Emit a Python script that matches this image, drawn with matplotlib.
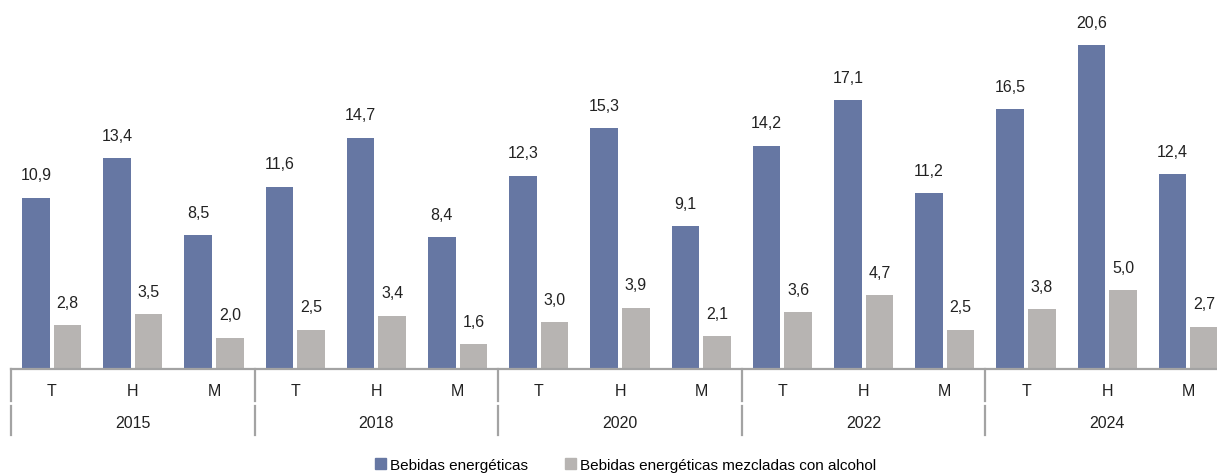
import matplotlib; matplotlib.use("Agg")
import matplotlib.pyplot as plt
import matplotlib.transforms as mtrans
from matplotlib.lines import Line2D
from matplotlib.patches import Patch
import numpy as np

plt.rcParams['font.family'] = ['Liberation Sans', 'DejaVu Sans']

years = ["2015", "2018", "2020", "2022", "2024"]
groups = ["T", "H", "M"]
energeticas = [10.9, 13.4, 8.5, 11.6, 14.7, 8.4, 12.3, 15.3, 9.1,
               14.2, 17.1, 11.2, 16.5, 20.6, 12.4]
con_alcohol = [2.8, 3.5, 2.0, 2.5, 3.4, 1.6, 3.0, 3.9, 2.1,
               3.6, 4.7, 2.5, 3.8, 5.0, 2.7]
series_names = ["Bebidas energéticas", "Bebidas energéticas mezcladas con alcohol"]

BLUE = "#6677a3"
GREY = "#b7b4b2"
LINE = "#a3a3a3"

W, H = 1217, 477
fig = plt.figure(figsize=(W / 100, H / 100), dpi=100)
# axes runs a bit past the right edge, like the clipped original
ax = fig.add_axes([11 / W, 107 / H, 1218 / W, 345 / H])

n = len(energeticas)
x = np.arange(n)
bw = 0.34
b1 = ax.bar(x - 0.195, energeticas, bw, color=BLUE)
b2 = ax.bar(x + 0.195, con_alcohol, bw, color=GREY)

for bars, vals in ((b1, energeticas), (b2, con_alcohol)):
    for r, v in zip(bars, vals):
        ax.annotate(f"{v:.1f}".replace(".", ","),
                    (r.get_x() + r.get_width() / 2, v),
                    xytext=(0, 11), textcoords="offset points",
                    ha="center", va="bottom", fontsize=11.5, color="#222222")

ax.set_xlim(-0.5, n - 0.5)
ax.set_ylim(0, 345 / 15.73)
for s in ("top", "right", "left"):
    ax.spines[s].set_visible(False)
ax.spines["bottom"].set_color(LINE)
ax.spines["bottom"].set_linewidth(1.6)
ax.set_xticks([])
ax.set_yticks([])

tr = mtrans.blended_transform_factory(ax.transData, fig.transFigure)
for i in range(n):
    ax.text(i, (H - 392) / H, groups[i % 3], transform=tr, ha="center",
            va="center", fontsize=11.5, color="#222222")
for k, yr in enumerate(years):
    ax.text(3 * k + 1, (H - 424) / H, yr, transform=tr, ha="center",
            va="center", fontsize=11.5, color="#222222")
for k in range(len(years) + 1):
    xs = 3 * k - 0.5
    for y0, y1 in ((370, 402), (407, 436)):
        ax.add_line(Line2D([xs, xs], [(H - y0) / H, (H - y1) / H], transform=tr,
                           color=LINE, lw=1.6, clip_on=False))

handles = [Patch(color=BLUE), Patch(color=GREY)]
fig.legend(handles, series_names, loc="center", bbox_to_anchor=(0.514, (H - 466) / H),
           ncol=2, frameon=False, fontsize=11, handlelength=0.7, handleheight=0.7,
           handletextpad=0.3, columnspacing=2.4)

fig.savefig("out.png", dpi=100)
